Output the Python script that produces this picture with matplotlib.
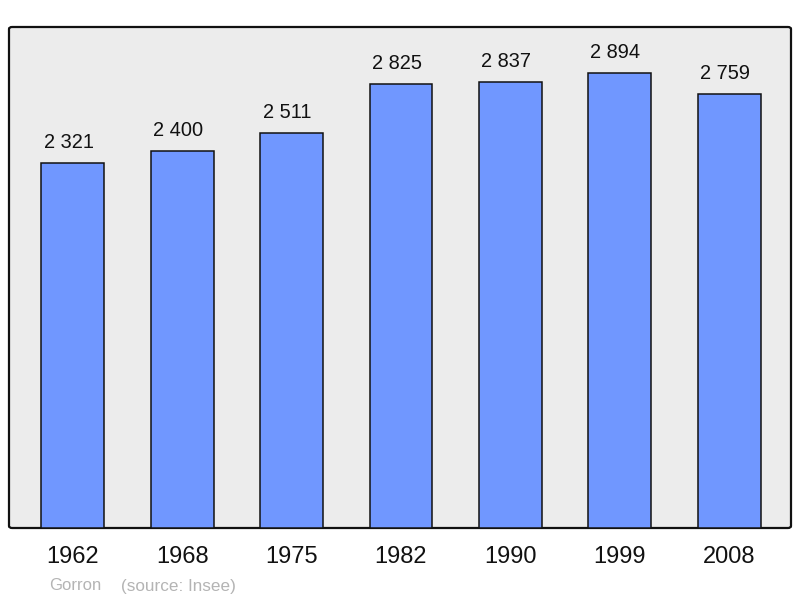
import matplotlib
matplotlib.use("Agg")
import matplotlib.pyplot as plt
from matplotlib.patches import FancyBboxPatch

years = ["1962", "1968", "1975", "1982", "1990", "1999", "2008"]
population = [2321, 2400, 2511, 2825, 2837, 2894, 2759]
value_labels = ["2 321", "2 400", "2 511", "2 825", "2 837", "2 894", "2 759"]

plt.rcParams['font.family'] = ['Liberation Sans', 'DejaVu Sans']

fig = plt.figure(figsize=(8, 5.98), dpi=100)
ax = fig.add_axes([9 / 800, 70 / 598, 782 / 800, 501 / 598])
ax.set_facecolor("none")

# rounded gray frame behind the bars
frame = FancyBboxPatch((0, 0), 1, 1, boxstyle="round,pad=0,rounding_size=0.004",
                       transform=ax.transAxes, facecolor="#ececec",
                       edgecolor="#111111", linewidth=1.6, clip_on=False, zorder=0)
ax.add_patch(frame)

pos = list(range(len(years)))
bars = ax.bar(pos, population, width=0.575, color="#7097ff",
              edgecolor="#111111", linewidth=1.1, zorder=2)

# labels sit a little left of the bar centre, as in the original
for b, lab in zip(bars, value_labels):
    ax.annotate(lab, (b.get_x() + b.get_width() / 2, b.get_height()),
                xytext=(-3, 8), textcoords="offset points",
                ha="center", va="bottom", fontsize=14.4, color="#111111")

ax.set_xlim(-0.584, 6.566)
ax.set_ylim(0, 3187)
for s in ax.spines.values():
    s.set_visible(False)
ax.set_yticks([])
ax.set_xticks(pos)
ax.set_xticklabels(years, fontsize=17, color="#111111")
ax.tick_params(axis="x", length=0, pad=13)

fig.text(49 / 800, 1 - 586 / 598, "Gorron", ha="left", va="center",
         fontsize=12, color="#b4b4b4")
fig.text(121 / 800, 1 - 586 / 598, "(source: Insee)", ha="left", va="center",
         fontsize=12.3, color="#b4b4b4")

fig.savefig("out.png", dpi=100)
